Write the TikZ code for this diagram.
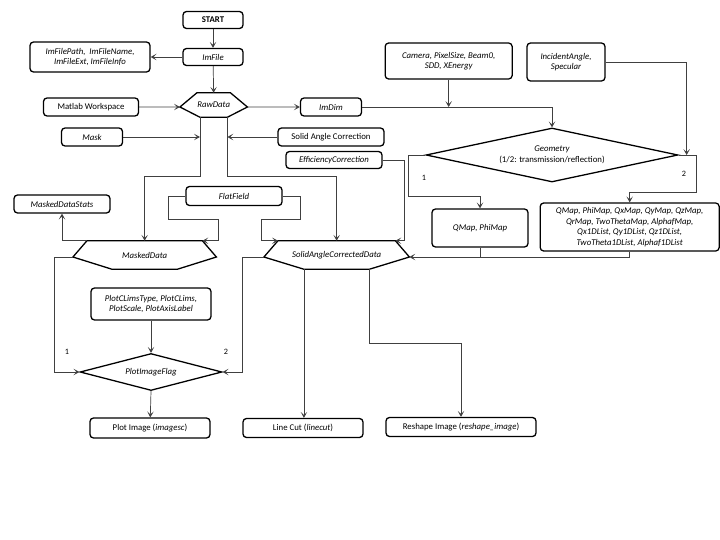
\documentclass[tikz,border=0pt]{standalone}
\usepackage{fontspec}
\setmainfont{Carlito}
\usepackage{tikz}
\usetikzlibrary{arrows.meta,calc,shapes.geometric}

% hexagon frame round a plain node: #1 node, #2 top inset, #3 bottom inset
\newcommand{\hexframe}[3]{%
  \draw[shp] ([xshift=#2]#1.north west) coordinate (#1-tl)
    -- ([xshift=-#2]#1.north east) coordinate (#1-tr)
    -- ([yshift=-0.06cm]#1.east) coordinate (#1-r)
    -- ([xshift=-#3]#1.south east) coordinate (#1-br)
    -- ([xshift=#3]#1.south west) coordinate (#1-bl)
    -- ([yshift=-0.06cm]#1.west) coordinate (#1-l)
    -- cycle;}

\begin{document}
\begin{tikzpicture}[
  font=\fontsize{7.5}{9}\selectfont,
  >={Stealth[length=5pt,width=5.5pt,inset=2.5pt]},
  box/.style={draw=black, line width=1.1pt, rounded corners=3pt, align=center,
              inner sep=1pt},
  ibox/.style={box, font=\fontsize{7.5}{9}\selectfont\itshape},
  hexa/.style={inner sep=0pt, font=\fontsize{7.5}{9}\selectfont\itshape},
  shp/.style={draw=black, line width=1.1pt, line join=miter},
  dec/.style={diamond, draw=black, line width=1.1pt, inner sep=0pt, align=center},
  arr/.style={->, draw=black!75, line width=0.6pt},
  lnk/.style={draw=black!75, line width=0.6pt},
  num/.style={font=\fontsize{7}{8}\selectfont}
]
\useasboundingbox (0,0) rectangle (21.6,-16.2);
% ---------------- input side
\node[box, font=\fontsize{7.5}{9}\selectfont\bfseries, minimum width=1.80cm, minimum height=0.51cm] (start) at (6.39,-0.60) {START};
\node[ibox, minimum width=1.80cm, minimum height=0.51cm] (imfile) at (6.39,-1.71) {ImFile};
\node[ibox, minimum width=3.60cm, minimum height=0.90cm] (iminfo) at (2.70,-1.71) {ImFilePath,\ \ ImFileName,\\ ImFileExt, ImFileInfo};
\node[hexa, minimum width=2.01cm, minimum height=0.72cm] (raw) at (6.41,-3.15) {RawData};
\hexframe{raw}{0.51cm}{0.60cm}
\node[box, minimum width=2.85cm, minimum height=0.54cm] (matlab) at (2.73,-3.21) {Matlab Workspace};
\node[ibox, minimum width=1.83cm, minimum height=0.54cm] (imdim) at (9.93,-3.21) {ImDim};
\node[ibox, minimum width=1.83cm, minimum height=0.54cm] (mask) at (2.76,-4.11) {Mask};
\node[box, minimum width=3.18cm, minimum height=0.54cm] (solid) at (9.93,-4.11) {Solid Angle Correction};
\node[ibox, minimum width=2.88cm, minimum height=0.51cm] (eff) at (10.02,-4.80) {EfficiencyCorrection};
\draw[arr] (start) -- (imfile);
\draw[arr] (imfile) -- (iminfo);
\draw[arr] (imfile) -- (raw.north);
\draw[arr] (matlab) -- (raw-l);
\draw[arr] (raw-r) -- (imdim);
\draw[arr] (mask) -- (raw-bl |- mask.east);
\draw[arr] (solid) -- (raw-br |- solid.west);
% ---------------- geometry
\node[ibox, minimum width=3.81cm, minimum height=1.08cm] (camera) at (13.46,-1.83) {Camera, PixelSize, Beam0,\\ SDD, XEnergy};
\node[ibox, minimum width=2.34cm, minimum height=1.14cm] (incid) at (16.98,-1.86) {IncidentAngle,\\ Specular};
\node[dec, aspect=4.67, minimum width=7.56cm, minimum height=1.62cm] (geom) at (16.56,-4.65) {\textit{Geometry}\\ (1/2: transmission/reflection)};
\node[ibox, minimum width=2.88cm, minimum height=1.14cm] (qmap) at (14.40,-6.84) {QMap, PhiMap};
\node[ibox, minimum width=5.37cm, minimum height=1.44cm] (maps) at (18.89,-6.81)
  {QMap, PhiMap, QxMap, QyMap, QzMap,\\ QrMap, TwoThetaMap, AlphafMap,\\ Qx1DList, Qy1DList, Qz1DList,\\ TwoTheta1DList, Alphaf1DList};
\coordinate (gl) at (12.24,-5.88);
\coordinate (gr) at (20.88,-5.76);
\coordinate (g2in) at ($(geom.east)+(0.24,0)$);
\draw[arr] (imdim) -| (geom.north);
\draw[arr] (camera) -- (camera.south |- imdim.east);
\draw[arr] (incid) -| (g2in);
\draw[arr] (geom.west) -| (gl) -| (qmap.north);
\draw[arr] (geom.east) -| (gr) -| (maps.north);
\node[num] at (12.72,-5.34) {1};
\node[num] at (20.52,-5.22) {2};
% ---------------- masked / corrected data
\node[ibox, minimum width=2.88cm, minimum height=0.57cm] (flat) at (7.02,-5.88) {FlatField};
\node[ibox, minimum width=2.88cm, minimum height=0.54cm] (stats) at (1.86,-6.12) {MaskedDataStats};
\node[hexa, minimum width=4.29cm, minimum height=0.84cm] (masked) at (4.34,-7.65) {MaskedData};
\hexframe{masked}{0.42cm}{1.17cm}
\node[hexa, minimum width=4.35cm, minimum height=0.84cm] (sacd) at (10.10,-7.65) {SolidAngleCorrectedData};
\hexframe{sacd}{0.42cm}{1.20cm}
\coordinate (fork) at (6.41,-5.28);
\coordinate (ffl) at (5.04,-6.57);
\coordinate (ffr) at (9.00,-6.57);
\draw[arr] (raw-bl) -- (raw-bl |- fork) -| (masked.north);
\draw[arr] (raw-br) -- (raw-br |- fork) -| (sacd.north);
\draw[arr] (flat.west) -| (ffl) -| ($(masked-tr)+(0.48,0)$) -- (masked-tr);
\draw[arr] (flat.east) -| (ffr) -| ($(sacd-tl)+(-0.51,0)$) -- (sacd-tl);
\draw[arr] (eff) -| ($(sacd-tr)+(0.27,0)$) -- (sacd-tr);
\draw[arr] (masked-tl) -| (stats.south);
\draw[arr] (maps.south) |- (sacd-r);
\draw[lnk] (qmap.south) -- (qmap.south |- sacd-r);
% ---------------- outputs
\node[ibox, minimum width=3.60cm, minimum height=0.96cm] (clims) at (4.53,-9.12) {PlotCLimsType, PlotCLims,\\ PlotScale, PlotAxisLabel};
\node[dec, aspect=3.84, minimum width=4.26cm, minimum height=1.11cm, font=\fontsize{7.5}{9}\selectfont\itshape] (pif) at (4.53,-11.16) {PlotImageFlag};
\node[box, minimum width=3.60cm, minimum height=0.60cm] (plotimg) at (4.50,-12.84) {Plot Image (\textit{imagesc})};
\node[box, minimum width=3.60cm, minimum height=0.57cm] (linecut) at (9.09,-12.84) {Line Cut (\textit{linecut})};
\node[box, minimum width=4.50cm, minimum height=0.57cm] (reshape) at (13.83,-12.81) {Reshape Image (\textit{reshape\_image})};
\draw[arr] (masked-l) -- ++(-0.57,0) |- (pif.west);
\draw[arr] (sacd-l) -- ++(-0.66,0) |- (pif.east);
\node[num] at (2.01,-10.56) {1};
\node[num] at (6.78,-10.56) {2};
\draw[arr] (clims) -- (pif.north);
\draw[arr] (pif.south) -- (plotimg);
\draw[arr] (sacd-bl) -- (sacd-bl |- linecut.north);
\draw[arr] (sacd-br) -- ++(0,-2.22) -| (reshape.north);
\end{tikzpicture}
\end{document}
